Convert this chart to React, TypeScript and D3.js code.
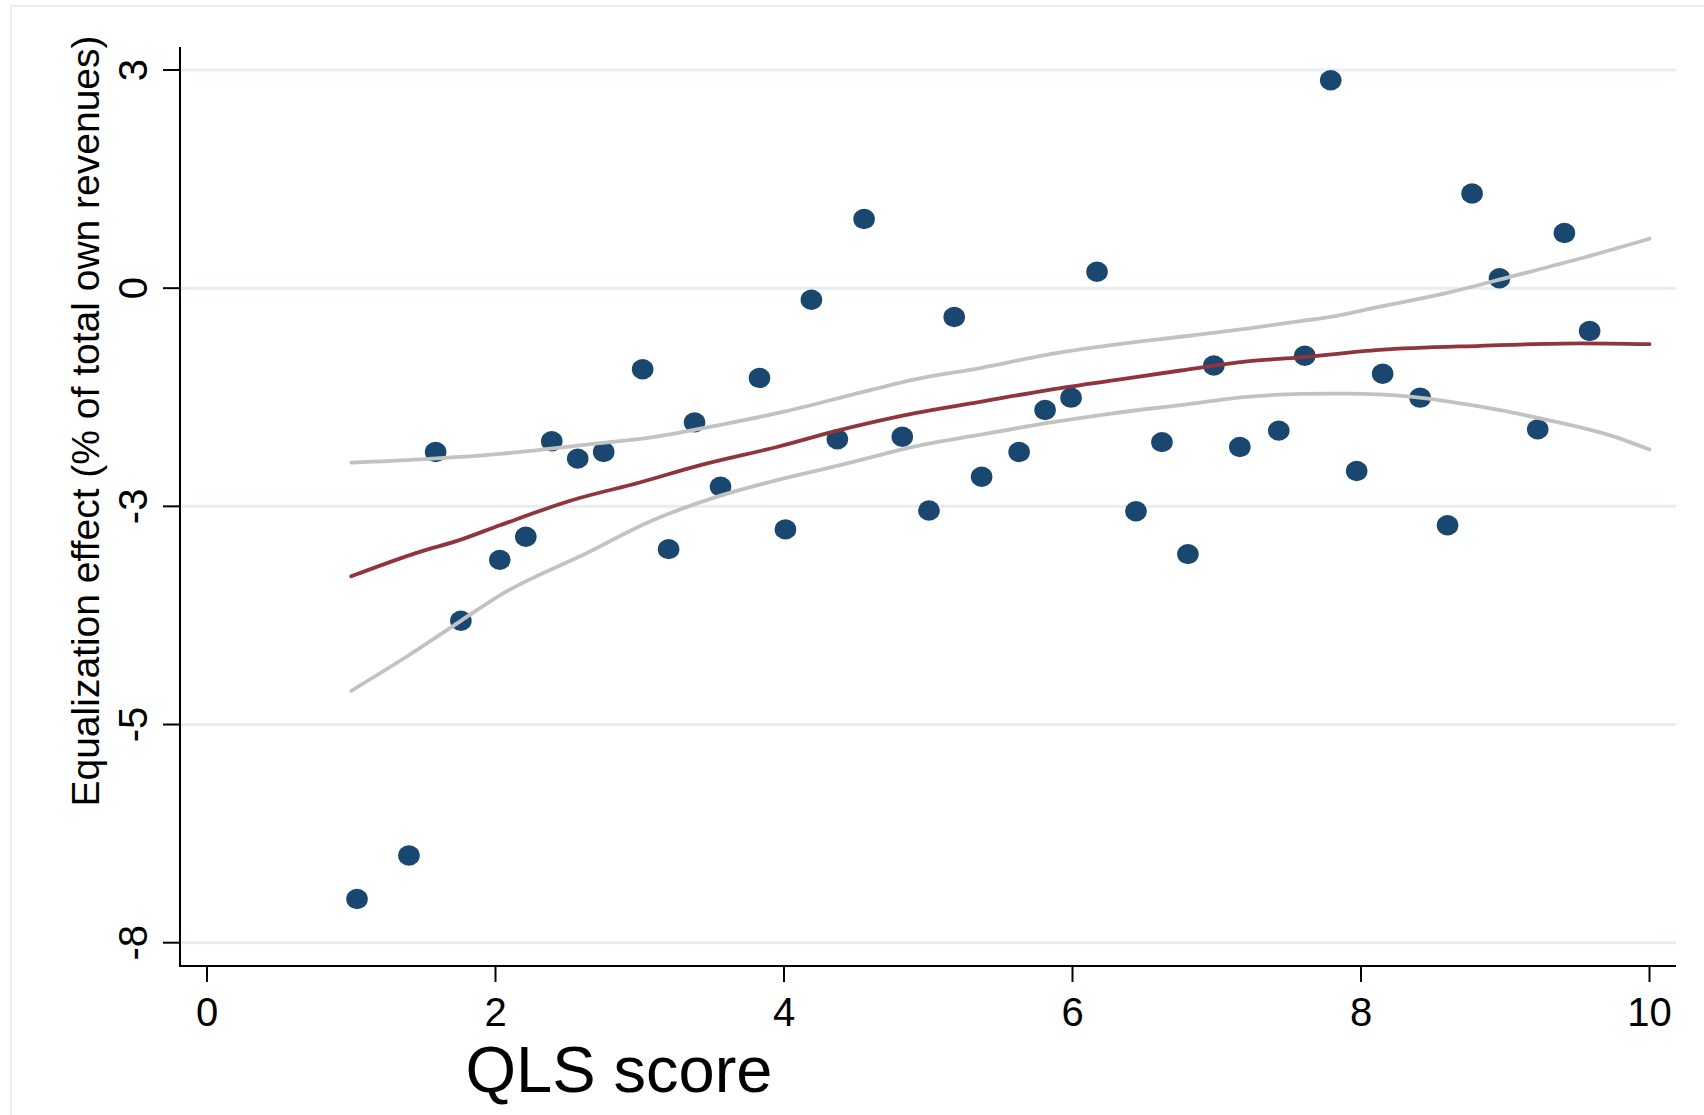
import React, { useRef, useEffect } from "react"
import * as d3 from "d3"

// scatter: QLS score vs equalization effect
const qlsScore = [
  1.04, 1.4, 1.585, 1.76, 2.03, 2.21, 2.39, 2.57, 2.75, 3.02, 3.2, 3.38, 3.56, 3.83, 4.01,
  4.19, 4.37, 4.555, 4.82, 5.005, 5.18, 5.37, 5.63, 5.81, 5.99, 6.17, 6.44, 6.62, 6.8, 6.98,
  7.16, 7.43, 7.61, 7.79, 7.97, 8.15, 8.41, 8.6, 8.77, 8.96, 9.225, 9.41, 9.585,
]
const equalization = [
  -7.37, -6.84, -1.94, -3.99, -3.25, -2.97, -1.81, -2.02, -1.94, -0.935, -3.12, -1.58, -2.36,
  -1.04, -2.88, -0.09, -1.785, 0.89, -1.755, -2.65, -0.3, -2.24, -1.94, -1.43, -1.28, 0.25,
  -2.66, -1.82, -3.18, -0.89, -1.88, -1.68, -0.77, 2.575, -2.17, -0.99, -1.28, -2.83, 1.2,
  0.17, -1.665, 0.72, -0.47,
]

// fitted line and its confidence band, as [score, effect]
const fitLine: [number, number][] = [
  [1.0, -3.45], [1.48, -3.15], [1.75, -3.01], [2.03, -2.83], [2.54, -2.52], [3.0, -2.31],
  [3.42, -2.1], [3.97, -1.87], [4.37, -1.68], [4.9, -1.47], [5.36, -1.33], [5.82, -1.19],
  [6.28, -1.07], [6.75, -0.95], [7.21, -0.84], [7.58, -0.79], [8.13, -0.7], [8.83, -0.65],
  [9.52, -0.62], [10.0, -0.63],
]
const ciUpper: [number, number][] = [
  [1.0, -2.07], [1.48, -2.03], [2.05, -1.96], [2.63, -1.85], [3.09, -1.76], [3.56, -1.61],
  [4.0, -1.45], [4.46, -1.25], [4.9, -1.06], [5.36, -0.92], [5.82, -0.76], [6.28, -0.64],
  [6.75, -0.54], [7.21, -0.44], [7.58, -0.35], [7.79, -0.3], [8.13, -0.175], [8.59, -0.01],
  [9.06, 0.2], [9.52, 0.41], [10.0, 0.65],
]
const ciLower: [number, number][] = [
  [1.0, -4.84], [1.38, -4.43], [1.76, -3.99], [2.05, -3.66], [2.63, -3.17],
  [3.09, -2.77], [3.56, -2.47], [4.0, -2.26], [4.46, -2.07], [4.9, -1.875], [5.36, -1.73],
  [5.82, -1.59], [6.28, -1.47], [6.75, -1.37], [7.21, -1.27], [7.58, -1.235], [7.9, -1.23],
  [8.36, -1.27], [8.83, -1.39], [9.29, -1.55], [9.75, -1.75], [10.0, -1.91],
]

const xTicks = [0, 2, 4, 6, 8, 10]
const yTickValues = [2.7, 0.05, -2.6, -5.25, -7.9]
const yTickLabels = ["3", "0", "-3", "-5", "-8"]

const WIDTH = 1704
const HEIGHT = 1115
const FONT = "'Liberation Sans', Arial, Helvetica, sans-serif"

const App: React.FC = () => {
  const svgRef = useRef<SVGSVGElement | null>(null)

  useEffect(() => {
    if (!svgRef.current) return
    const svg = d3.select(svgRef.current)
    svg.selectAll("*").remove()

    const box = { left: 180, top: 47, right: 1676, bottom: 966 }

    const x = d3.scaleLinear().domain([0, 10]).range([207, 1649.5])
    const y = d3.scaleLinear().domain([-7.9, 2.7]).range([942.7, 70])

    svg.append("rect").attr("width", WIDTH).attr("height", HEIGHT).attr("fill", "#fff")

    // outer graph frame
    svg
      .append("rect")
      .attr("x", 11)
      .attr("y", 6)
      .attr("width", 1800)
      .attr("height", 1200)
      .attr("fill", "none")
      .attr("stroke", "#e8eff2")
      .attr("stroke-width", 2)

    // gridlines
    svg
      .append("g")
      .selectAll("line")
      .data(yTickValues)
      .join("line")
      .attr("x1", box.left)
      .attr("x2", box.right)
      .attr("y1", (d) => y(d))
      .attr("y2", (d) => y(d))
      .attr("stroke", "#e6eef1")
      .attr("stroke-width", 3)

    // points
    svg
      .append("g")
      .selectAll("ellipse")
      .data(qlsScore)
      .join("ellipse")
      .attr("cx", (d) => x(d))
      .attr("cy", (_, i) => y(equalization[i]))
      .attr("rx", 10.8)
      .attr("ry", 10.2)
      .attr("fill", "#1a476f")

    const line = d3
      .line<[number, number]>()
      .x((d) => x(d[0]))
      .y((d) => y(d[1]))
      .curve(d3.curveMonotoneX)

    // confidence band lines
    ;[ciUpper, ciLower].forEach((band) => {
      svg
        .append("path")
        .datum(band)
        .attr("fill", "none")
        .attr("stroke", "#c2c2c2")
        .attr("stroke-width", 3.8)
        .attr("stroke-linecap", "round")
        .attr("stroke-linejoin", "round")
        .attr("d", line)
    })

    // fitted line
    svg
      .append("path")
      .datum(fitLine)
      .attr("fill", "none")
      .attr("stroke", "#90353b")
      .attr("stroke-width", 3.8)
      .attr("stroke-linecap", "round")
      .attr("stroke-linejoin", "round")
      .attr("d", line)

    // axes
    svg
      .append("line")
      .attr("x1", box.left)
      .attr("x2", box.left)
      .attr("y1", box.top)
      .attr("y2", box.bottom + 1)
      .attr("stroke", "#000")
      .attr("stroke-width", 2)
    svg
      .append("line")
      .attr("x1", box.left - 1)
      .attr("x2", box.right)
      .attr("y1", box.bottom)
      .attr("y2", box.bottom)
      .attr("stroke", "#000")
      .attr("stroke-width", 2)

    // y ticks + labels
    const yg = svg.append("g")
    yg.selectAll("line")
      .data(yTickValues)
      .join("line")
      .attr("x1", box.left - 17)
      .attr("x2", box.left)
      .attr("y1", (d) => y(d))
      .attr("y2", (d) => y(d))
      .attr("stroke", "#000")
      .attr("stroke-width", 2)
    yg.selectAll("text")
      .data(yTickValues)
      .join("text")
      .attr("transform", (d) => `translate(147,${y(d)}) rotate(-90)`)
      .attr("text-anchor", "middle")
      .style("font-family", FONT)
      .style("font-size", "40px")
      .style("fill", "#000")
      .text((_, i) => yTickLabels[i])

    // x ticks + labels
    const xg = svg.append("g")
    xg.selectAll("line")
      .data(xTicks)
      .join("line")
      .attr("x1", (d) => x(d))
      .attr("x2", (d) => x(d))
      .attr("y1", box.bottom)
      .attr("y2", box.bottom + 16)
      .attr("stroke", "#000")
      .attr("stroke-width", 2)
    xg.selectAll("text")
      .data(xTicks)
      .join("text")
      .attr("x", (d) => x(d))
      .attr("y", 1026)
      .attr("text-anchor", "middle")
      .style("font-family", FONT)
      .style("font-size", "40px")
      .style("fill", "#000")
      .text((d) => String(d))

    // axis titles
    svg
      .append("text")
      .attr("transform", "translate(99,421) rotate(-90)")
      .attr("text-anchor", "middle")
      .style("font-family", FONT)
      .style("font-size", "39px")
      .style("fill", "#000")
      .text("Equalization effect (% of total own revenues)")

    svg
      .append("text")
      .attr("x", 619)
      .attr("y", 1092)
      .attr("text-anchor", "middle")
      .style("font-family", FONT)
      .style("font-size", "65px")
      .style("fill", "#000")
      .text("QLS score")
  }, [])

  return (
    <svg
      ref={svgRef}
      width={WIDTH}
      height={HEIGHT}
      style={{ position: "absolute", left: 0, top: 0, display: "block" }}
    ></svg>
  )
}

export default App
